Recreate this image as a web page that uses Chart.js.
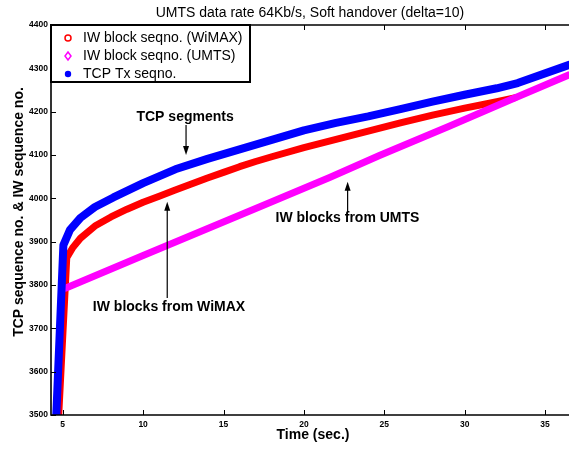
<!DOCTYPE html>
<html lang="en">
<head>
  <meta charset="UTF-8" />
  <title>UMTS data rate 64Kb/s, Soft handover</title>
  <script src="https://cdn.jsdelivr.net/npm/chart.js"></script>
  <style>
    body { margin: 0; background: #fff; }
    #wrap { width: 569px; height: 449px; }
  </style>
</head>
<body>
  <div id="wrap"><canvas id="seqChart"></canvas></div>

  <script>
    // tick labels
    const xTicks = [5, 10, 15, 20, 25, 30, 35];
    const yTicks = [3500, 3600, 3700, 3800, 3900, 4000, 4100, 4200, 4300, 4400];

    // IW block seqno. (WiMAX)
    const wimaxTime = [4.75, 5.25, 5.6, 6.1, 7, 8, 9, 10, 11, 12, 13, 14, 15, 16, 17, 18, 20, 22, 24, 26, 28, 30, 32, 33.1];
    const wimaxSeq  = [3500, 3863, 3885, 3908, 3936, 3957, 3975, 3991, 4005, 4019, 4033, 4047, 4060, 4073, 4085, 4096, 4117, 4136, 4155, 4174, 4192, 4208, 4223, 4232];

    // IW block seqno. (UMTS)
    const umtsTime = [5.2, 10, 17.3, 21.6, 24.7, 29, 33, 36.5];
    const umtsSeq  = [3793, 3868, 3981, 4048, 4099, 4166, 4230, 4285];

    // TCP Tx seqno.
    const tcpTime = [4.6, 5.04, 5.45, 6.1, 7, 8.15, 10, 12, 14, 16, 18, 20, 22, 24, 26, 28, 30, 32, 33.3, 36.5];
    const tcpSeq  = [3500, 3892, 3927, 3955, 3980, 4002, 4035, 4067, 4091, 4113, 4135, 4157, 4174, 4189, 4206, 4223, 4239, 4254, 4266, 4308];

    const FONT = "'Liberation Sans', Arial, Helvetica, sans-serif";
    const pts = (xs, ys) => xs.map((x, i) => ({ x: x, y: ys[i] }));

    const notes = [
      { text: 'TCP segments', tx: 12.61, ty: 4188, ax: 12.67, from: 4169, to: 4100 },
      { text: 'IW blocks from WiMAX', tx: 11.61, ty: 3749, ax: 11.5, from: 3770, to: 3992 },
      { text: 'IW blocks from UMTS', tx: 22.71, ty: 3955, ax: 22.72, from: 3968, to: 4038 }
    ];

    const decor = {
      id: 'decor',
      afterDraw(chart) {
        const ctx = chart.ctx;
        const a = chart.chartArea;
        const xs = chart.scales.x, ys = chart.scales.y;
        ctx.save();

        // annotations with arrows
        ctx.fillStyle = '#000';
        ctx.strokeStyle = '#000';
        ctx.font = 'bold 14px ' + FONT;
        ctx.textAlign = 'center';
        ctx.textBaseline = 'middle';
        notes.forEach(n => {
          ctx.fillText(n.text, xs.getPixelForValue(n.tx), ys.getPixelForValue(n.ty));
          const x = xs.getPixelForValue(n.ax);
          const y0 = ys.getPixelForValue(n.from), y1 = ys.getPixelForValue(n.to);
          const dir = y1 < y0 ? 1 : -1;
          ctx.lineWidth = 1.2;
          ctx.beginPath();
          ctx.moveTo(x, y0);
          ctx.lineTo(x, y1 + dir * 6);
          ctx.stroke();
          ctx.beginPath();
          ctx.moveTo(x, y1);
          ctx.lineTo(x - 3, y1 + dir * 9);
          ctx.lineTo(x + 3, y1 + dir * 9);
          ctx.closePath();
          ctx.fill();
        });

        // axes frame with inward ticks
        ctx.lineWidth = 1.6;
        ctx.beginPath();
        ctx.moveTo(a.right, a.top);
        ctx.lineTo(a.left, a.top);
        ctx.lineTo(a.left, a.bottom);
        ctx.lineTo(a.right, a.bottom);
        ctx.stroke();
        ctx.lineWidth = 1;
        ctx.beginPath();
        xTicks.forEach(v => {
          const p = Math.round(xs.getPixelForValue(v)) + 0.5;
          ctx.moveTo(p, a.bottom); ctx.lineTo(p, a.bottom - 5);
          ctx.moveTo(p, a.top); ctx.lineTo(p, a.top + 5);
        });
        yTicks.forEach(v => {
          const p = Math.round(ys.getPixelForValue(v)) + 0.5;
          ctx.moveTo(a.left, p); ctx.lineTo(a.left + 5, p);
        });
        ctx.stroke();

        // legend box
        const bx = a.left, by = a.top, bw = 199, bh = 57;
        ctx.fillStyle = '#fff';
        ctx.fillRect(bx, by, bw, bh);
        ctx.lineWidth = 2;
        ctx.strokeRect(bx, by, bw, bh);
        ctx.font = '14px ' + FONT;
        ctx.textAlign = 'left';
        ctx.textBaseline = 'middle';
        chart.data.datasets.forEach((ds, i) => {
          const cy = by + 13 + i * 18;
          const mx = bx + 17;
          ctx.strokeStyle = ds.borderColor;
          ctx.fillStyle = ds.borderColor;
          ctx.lineWidth = 1.5;
          ctx.beginPath();
          if (ds.legendMark === 'circle') {
            ctx.arc(mx, cy, 3, 0, Math.PI * 2);
            ctx.stroke();
          } else if (ds.legendMark === 'diamond') {
            ctx.moveTo(mx, cy - 4); ctx.lineTo(mx + 3, cy);
            ctx.lineTo(mx, cy + 4); ctx.lineTo(mx - 3, cy);
            ctx.closePath();
            ctx.stroke();
          } else {
            ctx.arc(mx, cy, 3.2, 0, Math.PI * 2);
            ctx.fill();
          }
          ctx.fillStyle = '#000';
          ctx.fillText(ds.label, bx + 32, cy);
        });

        // titles
        ctx.fillStyle = '#000';
        ctx.textAlign = 'center';
        ctx.font = '14px ' + FONT;
        ctx.fillText('UMTS data rate 64Kb/s, Soft handover (delta=10)', 310, 13);
        ctx.font = 'bold 14px ' + FONT;
        ctx.fillText('Time (sec.)', 313, 435);
        ctx.translate(19, 212);
        ctx.rotate(-Math.PI / 2);
        ctx.fillText('TCP sequence no. & IW sequence no.', 0, 0);
        ctx.restore();
      }
    };

    const tickFont = { family: FONT, size: 8.5, weight: 'bold' };

    new Chart(document.getElementById('seqChart'), {
      type: 'line',
      data: {
        datasets: [
          { label: 'IW block seqno. (WiMAX)', data: pts(wimaxTime, wimaxSeq), borderColor: '#ff0000', borderWidth: 7, order: 2, legendMark: 'circle' },
          { label: 'IW block seqno. (UMTS)', data: pts(umtsTime, umtsSeq), borderColor: '#ff00ff', borderWidth: 7, order: 1, legendMark: 'diamond' },
          { label: 'TCP Tx seqno.', data: pts(tcpTime, tcpSeq), borderColor: '#0000ff', borderWidth: 8, order: 0, legendMark: 'dot' }
        ]
      },
      options: {
        responsive: true,
        maintainAspectRatio: false,
        animation: false,
        layout: { padding: { top: 25, right: 0, bottom: 0, left: 0 } },
        elements: {
          point: { radius: 0 },
          line: { tension: 0, fill: false, borderCapStyle: 'round', borderJoinStyle: 'round' }
        },
        plugins: { legend: { display: false }, tooltip: { enabled: false } },
        scales: {
          x: {
            type: 'linear',
            min: 4.27,
            max: 36.49,
            grid: { display: false, drawTicks: false },
            border: { display: false },
            ticks: { font: tickFont, color: '#000', padding: 5, autoSkip: false, maxRotation: 0, callback: v => String(v) },
            afterBuildTicks: s => { s.ticks = xTicks.map(v => ({ value: v })); },
            afterFit: s => { s.height = 34; }
          },
          y: {
            min: 3500,
            max: 4400,
            grid: { display: false, drawTicks: false },
            border: { display: false },
            ticks: { font: tickFont, color: '#000', padding: 3, callback: v => String(v) },
            afterBuildTicks: s => { s.ticks = yTicks.map(v => ({ value: v })); },
            afterFit: s => { s.width = 51; }
          }
        }
      },
      plugins: [decor]
    });
  </script>
</body>
</html>
